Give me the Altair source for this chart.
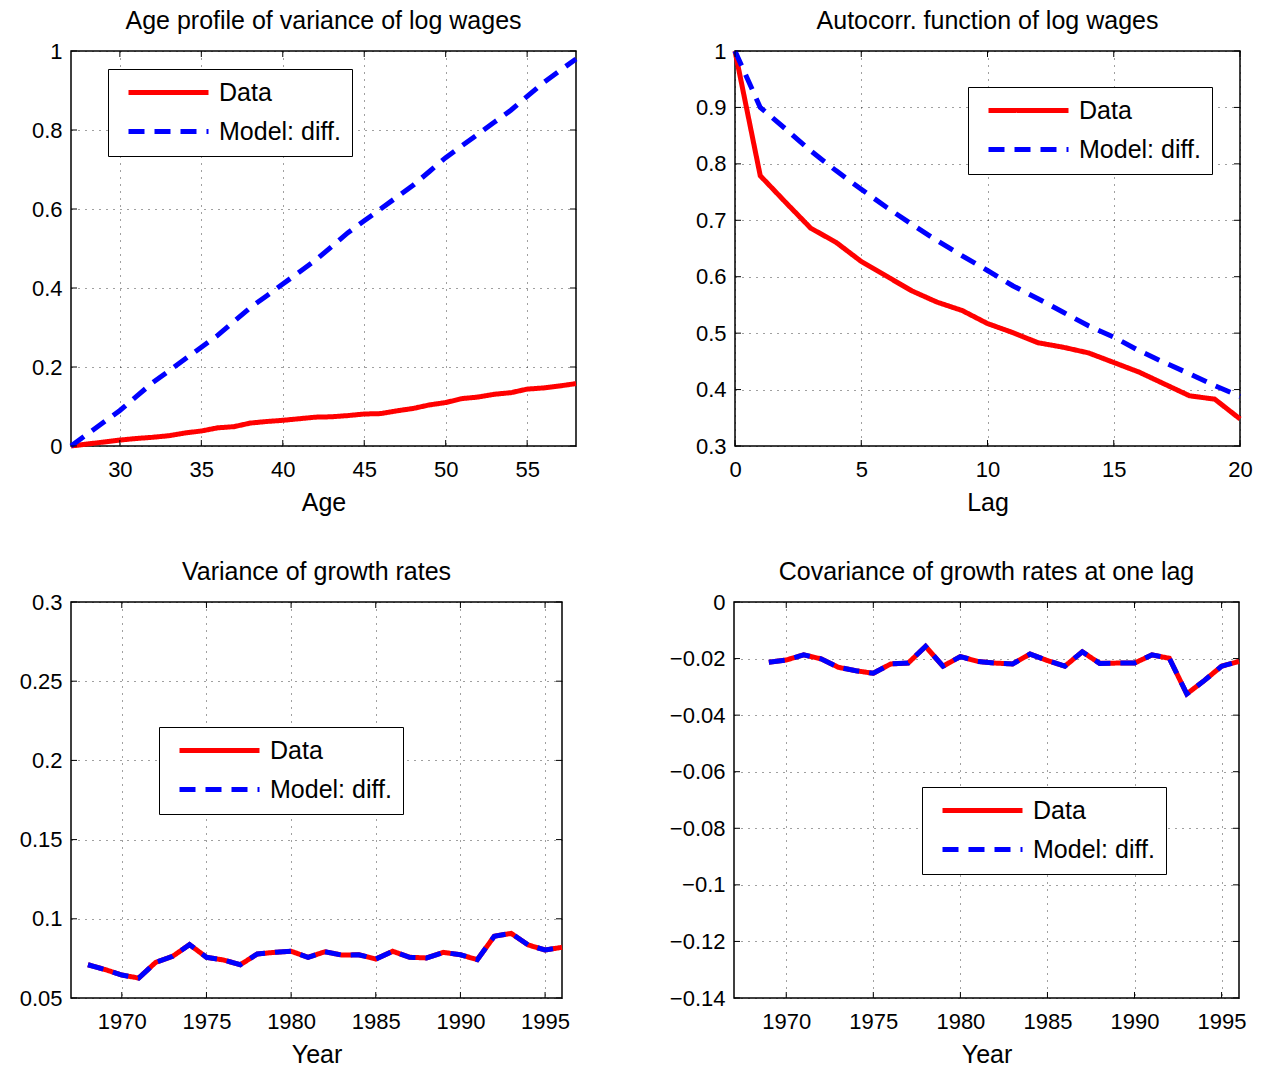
import altair as alt
import pandas as pd

SERIES = ["Data", "Model: diff."]

# Panel 1: age profile of variance of log wages
ages = list(range(27, 59))
age_data = [0.000, 0.005, 0.010, 0.015, 0.019, 0.022, 0.026, 0.033, 0.038, 0.046,
            0.049, 0.058, 0.062, 0.065, 0.069, 0.073, 0.074, 0.077, 0.081, 0.082,
            0.089, 0.095, 0.104, 0.110, 0.120, 0.124, 0.131, 0.135, 0.144, 0.147,
            0.152, 0.158]
age_model = [0.00, 0.03, 0.06, 0.09, 0.125, 0.16, 0.19, 0.22, 0.25, 0.28,
             0.315, 0.35, 0.38, 0.41, 0.44, 0.47, 0.505, 0.54, 0.57, 0.60,
             0.63, 0.66, 0.695, 0.73, 0.76, 0.79, 0.82, 0.85, 0.885, 0.92,
             0.95, 0.98]

# Panel 2: autocorrelation function
lags = list(range(0, 21))
acf_data = [1.0, 0.779, 0.732, 0.686, 0.661, 0.627, 0.601, 0.575, 0.555, 0.540,
            0.517, 0.501, 0.483, 0.475, 0.465, 0.448, 0.431, 0.410, 0.389, 0.383, 0.348]
acf_model = [1.0, 0.900, 0.862, 0.823, 0.788, 0.755, 0.723, 0.693, 0.664, 0.637,
             0.611, 0.584, 0.561, 0.537, 0.513, 0.493, 0.469, 0.448, 0.428, 0.407, 0.388]

# Panel 3: variance of growth rates
years_var = list(range(1968, 1997))
var_data = [0.0710, 0.0680, 0.0645, 0.0626, 0.0725, 0.0763, 0.0837, 0.0757, 0.0740, 0.0710,
            0.0778, 0.0788, 0.0795, 0.0757, 0.0792, 0.0771, 0.0773, 0.0746, 0.0795, 0.0757,
            0.0753, 0.0788, 0.0773, 0.0742, 0.0890, 0.0908, 0.0835, 0.0803, 0.0820]
var_model = [0.0710, 0.0680, 0.0645, 0.0626, 0.0725, 0.0763, 0.0837, 0.0757, 0.0740, 0.0710,
             0.0778, 0.0788, 0.0795, 0.0757, 0.0792, 0.0771, 0.0773, 0.0746, 0.0795, 0.0757,
             0.0753, 0.0788, 0.0773, 0.0742, 0.0890, 0.0908, 0.0835, 0.0803, 0.0820]

# Panel 4: covariance of growth rates at one lag
years_cov = list(range(1969, 1997))
cov_data = [-0.0213, -0.0205, -0.0187, -0.0201, -0.0231, -0.0243, -0.0252, -0.0219, -0.0216, -0.0157,
            -0.0227, -0.0193, -0.0210, -0.0216, -0.0219, -0.0184, -0.0207, -0.0227, -0.0176, -0.0217,
            -0.0216, -0.0216, -0.0187, -0.0199, -0.0325, -0.0278, -0.0227, -0.0210]
cov_model = [-0.0213, -0.0205, -0.0187, -0.0201, -0.0231, -0.0243, -0.0252, -0.0219, -0.0216, -0.0157,
             -0.0227, -0.0193, -0.0210, -0.0216, -0.0219, -0.0184, -0.0207, -0.0227, -0.0176, -0.0217,
             -0.0216, -0.0216, -0.0187, -0.0199, -0.0325, -0.0278, -0.0227, -0.0210]

FONT = "Liberation Sans"
TICK = 6


def panel(xs, d, m, xdom, xticks, xfmt, ydom, yticks, title, xtitle, w, h, lx, ly):
    df = pd.DataFrame({
        "x": xs + xs,
        "y": d + m,
        "series": [SERIES[0]] * len(xs) + [SERIES[1]] * len(xs),
    })
    xsc = alt.Scale(domain=xdom, nice=False, zero=False)
    ysc = alt.Scale(domain=ydom, nice=False, zero=False)
    xax = alt.Axis(values=xticks, format=xfmt, title=xtitle)
    yax = alt.Axis(values=yticks, format="~g", title=None)
    leg = alt.Legend(orient="none", legendX=lx, legendY=ly, title=None)
    lines = alt.Chart(df).mark_line(strokeWidth=5, clip=False).encode(
        x=alt.X("x:Q", scale=xsc, axis=xax),
        y=alt.Y("y:Q", scale=ysc, axis=yax),
        color=alt.Color("series:N",
                        scale=alt.Scale(domain=SERIES, range=["#ff0000", "#0000ff"]),
                        legend=leg),
        strokeDash=alt.StrokeDash("series:N",
                                  scale=alt.Scale(domain=SERIES, range=[[1, 0], [16, 10]]),
                                  legend=leg),
    )
    xt = pd.DataFrame({"x": xticks})
    yt = pd.DataFrame({"y": yticks})
    rule = dict(color="black", strokeWidth=1)
    bx = alt.Chart(xt).mark_rule(**rule).encode(
        x=alt.X("x:Q", scale=xsc, axis=xax), y=alt.value(h), y2=alt.value(h - TICK))
    tx = alt.Chart(xt).mark_rule(**rule).encode(
        x=alt.X("x:Q", scale=xsc, axis=xax), y=alt.value(0), y2=alt.value(TICK))
    ly_ = alt.Chart(yt).mark_rule(**rule).encode(
        y=alt.Y("y:Q", scale=ysc, axis=yax), x=alt.value(0), x2=alt.value(TICK))
    ry = alt.Chart(yt).mark_rule(**rule).encode(
        y=alt.Y("y:Q", scale=ysc, axis=yax), x=alt.value(w), x2=alt.value(w - TICK))
    return alt.layer(lines, bx, tx, ly_, ry).properties(width=w, height=h, title=title)


p1 = panel(ages, age_data, age_model, [27, 58], [30, 35, 40, 45, 50, 55], "d",
           [0, 1], [0, 0.2, 0.4, 0.6, 0.8, 1.0],
           "Age profile of variance of log wages", "Age", 505, 395, 37, 18)
p2 = panel(lags, acf_data, acf_model, [0, 20], [0, 5, 10, 15, 20], "d",
           [0.3, 1], [0.3, 0.4, 0.5, 0.6, 0.7, 0.8, 0.9, 1.0],
           "Autocorr. function of log wages", "Lag", 505, 395, 233, 36)
p3 = panel(years_var, var_data, var_model, [1967, 1996], [1970, 1975, 1980, 1985, 1990, 1995], "d",
           [0.05, 0.3], [0.05, 0.1, 0.15, 0.2, 0.25, 0.3],
           "Variance of growth rates", "Year", 491, 396, 88, 125)
p4 = panel(years_cov, cov_data, cov_model, [1967, 1996], [1970, 1975, 1980, 1985, 1990, 1995], "d",
           [-0.14, 0], [-0.14, -0.12, -0.1, -0.08, -0.06, -0.04, -0.02, 0],
           "Covariance of growth rates at one lag", "Year", 505, 396, 188, 185)

res = dict(color="independent", strokeDash="independent")
row1 = alt.hconcat(p1, p2, spacing=77).resolve_scale(**res)
row2 = alt.hconcat(p3, p4, spacing=90).resolve_scale(**res)

chart = alt.vconcat(row1, row2, spacing=43).resolve_scale(**res).properties(
    padding={"left": 0, "top": 8, "right": 5, "bottom": 2}
).configure(
    font=FONT,
).configure_view(
    stroke="black", strokeWidth=1.5
).configure_axis(
    labelFont=FONT, labelFontSize=22, labelColor="black",
    titleFont=FONT, titleFontSize=25, titleColor="black", titleFontWeight="normal",
    tickSize=0, domain=False, grid=True, gridColor="black", gridDash=[1, 6],
    gridOpacity=0.75, gridWidth=1, labelPadding=9, labelFlush=False,
).configure_axisY(
    minExtent=70, maxExtent=70,
).configure_axisX(
    labelPadding=13, titlePadding=3, minExtent=41, maxExtent=41,
).configure_title(
    font=FONT, fontSize=25, fontWeight="normal", color="black", anchor="middle",
    offset=6, frame="group",
).configure_legend(
    strokeColor="black", fillColor="white", padding=11,
    symbolType="M-5,0H5", symbolSize=256, symbolStrokeWidth=5, symbolOffset=37,
    labelOffset=38, labelFont=FONT, labelFontSize=25, labelColor="black",
    rowPadding=13, symbolFillColor="transparent",
)

chart.save("out.html", embed_options={"renderer": "svg", "actions": False})
